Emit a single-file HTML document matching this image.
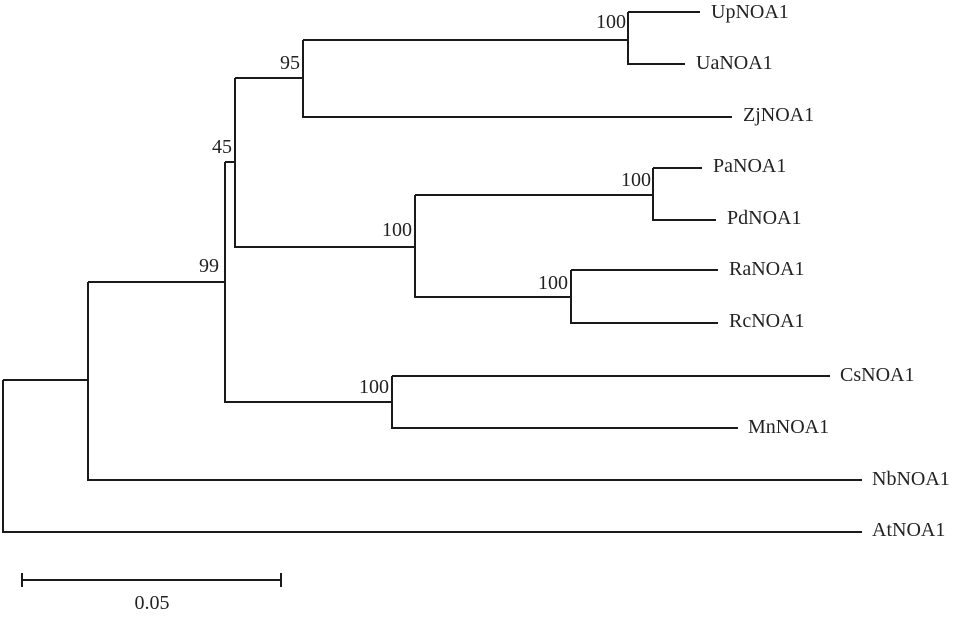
<!DOCTYPE html>
<html><head><meta charset="utf-8"><style>body{margin:0;background:#fff}</style></head><body>
<svg width="962" height="615" xmlns="http://www.w3.org/2000/svg" font-family="Liberation Serif, serif" font-size="20" fill="#222">
<g stroke="#1a1a1a" stroke-width="2" fill="none">
<path d="M3,380V532H862"/>
<path d="M3,380H88"/>
<path d="M88,282V480H862"/>
<path d="M88,282H225"/>
<path d="M225,162V402H392"/>
<path d="M225,162H235V247"/>
<path d="M235,78V247H415"/>
<path d="M235,78H303"/>
<path d="M303,40V117H732"/>
<path d="M303,40H628"/>
<path d="M628,12V64H685"/>
<path d="M628,12H700"/>
<path d="M415,195V297H571"/>
<path d="M415,195H653"/>
<path d="M653,168V220H716"/>
<path d="M653,168H702"/>
<path d="M571,270V323H718"/>
<path d="M571,270H718"/>
<path d="M392,376V428H738"/>
<path d="M392,376H830"/>
<path d="M22,580H281M22,573V587M281,573V587"/>
</g>
<g dominant-baseline="central">
<text x="711" y="12">UpNOA1</text>
<text x="696" y="63">UaNOA1</text>
<text x="743" y="115">ZjNOA1</text>
<text x="713" y="166">PaNOA1</text>
<text x="727" y="218">PdNOA1</text>
<text x="729" y="269">RaNOA1</text>
<text x="729" y="321">RcNOA1</text>
<text x="840" y="375">CsNOA1</text>
<text x="748" y="427">MnNOA1</text>
<text x="872" y="479">NbNOA1</text>
<text x="872" y="530">AtNOA1</text>
</g>
<g text-anchor="end">
<text x="626" y="28">100</text>
<text x="300" y="69">95</text>
<text x="232" y="153">45</text>
<text x="219" y="272">99</text>
<text x="412" y="236">100</text>
<text x="651" y="186">100</text>
<text x="568" y="289">100</text>
<text x="389" y="393">100</text>
</g>
<text x="152" y="609" text-anchor="middle">0.05</text>
</svg>
</body></html>
